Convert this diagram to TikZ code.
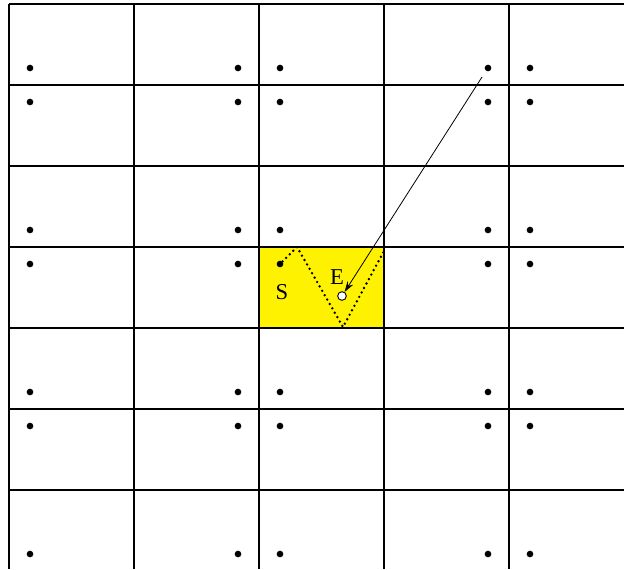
\documentclass[tikz,border=0pt]{standalone}
\usepackage{fontspec}
\setmainfont{Liberation Serif}
\usepackage{tikz}
\usetikzlibrary{calc,  positioning,  arrows.meta}

\tikzset{
  gridline/.style={line width=1.1pt,  black},
  pt/.style={circle,  fill=black,  inner sep=0pt,  minimum size=5pt},
  hole/.style={circle,  draw,  fill=white,  line width=0.7pt,  inner sep=0pt,  minimum size=6.5pt},
  zigzag/.style={line width=2pt,  line cap=round,  dash pattern=on 0pt off 3.8pt},
  lbl/.style={font=\fontsize{17}{20}\selectfont,  inner sep=0pt}
}

\begin{document}
\begin{tikzpicture}[x=0.75pt,  y=-0.75pt]
          \useasboundingbox (0, 0) rectangle (624, 569);
          % highlighted cell
          \fill[yellow] (259, 247) rectangle (384, 328);
          % grid
          \draw[gridline]  (9, 4) -- (624, 4);
          \draw[gridline]  (9, 85) -- (624, 85);
          \draw[gridline]  (9, 166) -- (624, 166);
          \draw[gridline]  (9, 247) -- (624, 247);
          \draw[gridline]  (9, 328) -- (624, 328);
          \draw[gridline]  (9, 409) -- (624, 409);
          \draw[gridline]  (9, 490) -- (624, 490);
          \draw[gridline]  (9, 4) -- (9, 569);
          \draw[gridline]  (134, 4) -- (134, 569);
          \draw[gridline]  (259, 4) -- (259, 569);
          \draw[gridline]  (384, 4) -- (384, 569);
          \draw[gridline]  (509, 4) -- (509, 569);
          % points
          \node[pt] (p11) at (30, 68) {};
          \node[pt] (p12) at (238, 68) {};
          \node[pt] (p13) at (280, 68) {};
          \node[pt] (p14) at (488, 68) {};
          \node[pt] (p15) at (530, 68) {};
          \node[pt] (p21) at (30, 102) {};
          \node[pt] (p22) at (238, 102) {};
          \node[pt] (p23) at (280, 102) {};
          \node[pt] (p24) at (488, 102) {};
          \node[pt] (p25) at (530, 102) {};
          \node[pt] (p31) at (30, 230) {};
          \node[pt] (p32) at (238, 230) {};
          \node[pt] (p33) at (280, 230) {};
          \node[pt] (p34) at (488, 230) {};
          \node[pt] (p35) at (530, 230) {};
          \node[pt] (p41) at (30, 264) {};
          \node[pt] (p42) at (238, 264) {};
          \node[pt] (start) at (280, 264) {};
          \node[pt] (p44) at (488, 264) {};
          \node[pt] (p45) at (530, 264) {};
          \node[pt] (p51) at (30, 392) {};
          \node[pt] (p52) at (238, 392) {};
          \node[pt] (p53) at (280, 392) {};
          \node[pt] (p54) at (488, 392) {};
          \node[pt] (p55) at (530, 392) {};
          \node[pt] (p61) at (30, 426) {};
          \node[pt] (p62) at (238, 426) {};
          \node[pt] (p63) at (280, 426) {};
          \node[pt] (p64) at (488, 426) {};
          \node[pt] (p65) at (530, 426) {};
          \node[pt] (p71) at (30, 554) {};
          \node[pt] (p72) at (238, 554) {};
          \node[pt] (p73) at (280, 554) {};
          \node[pt] (p74) at (488, 554) {};
          \node[pt] (p75) at (530, 554) {};
          % bouncing path
          \coordinate (b1) at (297, 247);
          \coordinate (b2) at (343, 327);
          \coordinate (b3) at (384, 251);
          \draw[zigzag]  (start) -- (b1) -- (b2) -- (b3);
          \node[hole] (finish) at (342, 296) {};
          \node[lbl] (slbl) at (282, 292) {S};
          \node[lbl] (elbl) at (337, 277) {E};
          \coordinate (from) at (482, 77);
          \draw[-{Stealth[length=8pt, width=5pt]},  line width=0.6pt]  (from) -- (finish);
      \end{tikzpicture}
\end{document}
